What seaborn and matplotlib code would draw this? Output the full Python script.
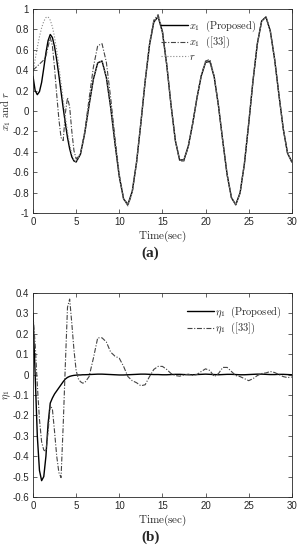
import matplotlib
matplotlib.use('Agg')
import matplotlib.pyplot as plt
import seaborn as sns

# time grid (s) for panel (a)
t_a = [0.0, 0.25, 0.5, 0.75, 1.0, 1.25, 1.5, 1.75, 2.0, 2.25, 2.5, 2.75, 3.0, 3.25, 3.5, 3.75,
       4.0, 4.25, 4.5, 4.75, 5.0, 5.5, 6.0, 6.5, 7.0, 7.5, 8.0, 8.5, 9.0, 9.5, 10.0, 10.5,
       11.0, 11.5, 12.0, 12.5, 13.0, 13.5, 14.0, 14.5, 15.0, 15.5, 16.0, 16.5, 17.0, 17.5,
       18.0, 18.5, 19.0, 19.5, 20.0, 20.5, 21.0, 21.5, 22.0, 22.5, 23.0, 23.5, 24.0, 24.5,
       25.0, 25.5, 26.0, 26.5, 27.0, 27.5, 28.0, 28.5, 29.0, 29.5, 30.0]

r_ref = [0.38, 0.505, 0.623, 0.728, 0.815, 0.879, 0.916, 0.923, 0.89, 0.825, 0.724, 0.594,
         0.443, 0.278, 0.109, -0.054, -0.201, -0.327, -0.421, -0.48, -0.5, -0.424, -0.217,
         0.056, 0.312, 0.472, 0.49, 0.329, 0.037, -0.317, -0.643, -0.862, -0.916, -0.789,
         -0.504, -0.119, 0.291, 0.644, 0.871, 0.925, 0.774, 0.452, 0.056, -0.291, -0.482,
         -0.477, -0.344, -0.126, 0.126, 0.344, 0.477, 0.486, 0.334, 0.049, -0.298, -0.624,
         -0.85, -0.919, -0.803, -0.518, -0.123, 0.299, 0.659, 0.882, 0.922, 0.785, 0.509,
         0.161, -0.173, -0.413, -0.5]

x1_prop = [0.34, 0.2, 0.16, 0.19, 0.28, 0.42, 0.57, 0.69, 0.75, 0.72, 0.63, 0.5, 0.35, 0.19,
           0.03, -0.12, -0.26, -0.37, -0.45, -0.49, -0.5, -0.424, -0.217, 0.056, 0.312,
           0.472, 0.49, 0.329, 0.037, -0.317, -0.643, -0.862, -0.916, -0.789, -0.504,
           -0.119, 0.291, 0.644, 0.871, 0.925, 0.774, 0.452, 0.056, -0.291, -0.482, -0.477,
           -0.344, -0.126, 0.126, 0.344, 0.477, 0.486, 0.334, 0.049, -0.298, -0.624, -0.85,
           -0.919, -0.803, -0.518, -0.123, 0.299, 0.659, 0.882, 0.922, 0.785, 0.509, 0.161,
           -0.173, -0.413, -0.5]

x1_33 = [0.4, 0.42, 0.44, 0.46, 0.48, 0.5, 0.54, 0.63, 0.72, 0.64, 0.42, 0.16, -0.08, -0.26,
         -0.29, -0.02, 0.13, 0.04, -0.2, -0.39, -0.47, -0.42, -0.2, 0.12, 0.43, 0.64, 0.66,
         0.48, 0.13, -0.26, -0.62, -0.86, -0.93, -0.8, -0.51, -0.12, 0.3, 0.66, 0.89, 0.945,
         0.79, 0.46, 0.06, -0.29, -0.49, -0.49, -0.35, -0.13, 0.13, 0.35, 0.49, 0.505, 0.34,
         0.049, -0.298, -0.624, -0.85, -0.919, -0.803, -0.518, -0.123, 0.299, 0.659, 0.882,
         0.922, 0.785, 0.509, 0.161, -0.173, -0.413, -0.5]

# time grid (s) for panel (b)
t_b = [0.0, 0.25, 0.5, 0.75, 1.0, 1.25, 1.5, 1.75, 2.0, 2.25, 2.5, 2.75, 3.0, 3.25, 3.5, 3.75,
       4.0, 4.25, 4.5, 4.75, 5.0, 5.25, 5.5, 5.75, 6.0, 6.5, 7.0, 7.5, 8.0, 8.5, 9.0, 9.5,
       10.0, 10.5, 11.0, 11.5, 12.0, 12.5, 13.0, 13.5, 14.0, 14.5, 15.0, 15.5, 16.0, 16.5,
       17.0, 17.5, 18.0, 18.5, 19.0, 19.5, 20.0, 20.5, 21.0, 21.5, 22.0, 22.5, 23.0, 23.5,
       24.0, 24.5, 25.0, 25.5, 26.0, 26.5, 27.0, 27.5, 28.0, 28.5, 29.0, 29.5, 30.0]

eta_prop = [0.3, 0.0, -0.3, -0.47, -0.52, -0.5, -0.4, -0.24, -0.14, -0.115, -0.095, -0.08,
            -0.065, -0.05, -0.035, -0.022, -0.014, -0.009, -0.006, -0.004, -0.003, -0.002,
            -0.002, -0.001, -0.001, 0.0, 0.001, 0.002, 0.002, 0.001, 0.0, -0.001, -0.002,
            -0.002, -0.001, 0.0, 0.001, 0.002, 0.002, 0.001, 0.0, 0.0, -0.001, -0.001, 0.0,
            0.001, 0.001, 0.0, -0.001, -0.001, 0.0, 0.001, 0.002, 0.001, 0.0, -0.001, 0.0,
            0.001, 0.001, 0.0, -0.001, -0.001, 0.0, 0.001, 0.002, 0.002, 0.001, 0.0, 0.0,
            0.001, 0.001, 0.0, -0.001]

eta_33 = [0.29, 0.15, -0.05, -0.22, -0.33, -0.37, -0.376, -0.28, -0.15, -0.17, -0.28, -0.4,
          -0.48, -0.505, -0.25, 0.05, 0.33, 0.37, 0.25, 0.12, 0.02, -0.02, -0.035, -0.042,
          -0.04, -0.01, 0.08, 0.18, 0.18, 0.16, 0.11, 0.09, 0.08, 0.04, -0.01, -0.03, -0.04,
          -0.055, -0.05, -0.01, 0.025, 0.04, 0.04, 0.025, 0.005, -0.005, -0.008, -0.002,
          0.002, -0.003, 0.0, 0.015, 0.028, 0.02, -0.01, 0.005, 0.035, 0.035, 0.015, -0.005,
          -0.01, -0.02, -0.03, -0.02, -0.005, 0.005, 0.008, 0.015, 0.01, 0.0, -0.01, -0.015,
          -0.012]

xticks = [0, 5, 10, 15, 20, 25, 30]
yticks_a = [-1, -0.8, -0.6, -0.4, -0.2, 0, 0.2, 0.4, 0.6, 0.8, 1]
yticks_b = [-0.6, -0.5, -0.4, -0.3, -0.2, -0.1, 0, 0.1, 0.2, 0.3, 0.4]

sns.set_style('ticks')
plt.rcParams['font.family'] = ['Liberation Sans', 'DejaVu Sans']
plt.rcParams['mathtext.fontset'] = 'cm'
plt.rcParams['axes.unicode_minus'] = False

fig = plt.figure(figsize=(3.01, 5.5), dpi=100)
ax1 = fig.add_axes([0.1096, 0.6127, 0.860, 0.371])
ax2 = fig.add_axes([0.1096, 0.0964, 0.860, 0.371])

dashdot = (0, (4.5, 1.5, 1, 1.5))
sns.lineplot(x=t_a, y=x1_prop, ax=ax1, color='black', linewidth=1.0,
             label=r'$x_1\ \ \mathrm{(Proposed)}$')
sns.lineplot(x=t_a, y=x1_33, ax=ax1, color='#444444', linewidth=0.8, linestyle=dashdot,
             label=r'$x_1\ \ \mathrm{([33])}$')
sns.lineplot(x=t_a, y=r_ref, ax=ax1, color='#888888', linewidth=0.8, linestyle=':',
             label=r'$r$')

sns.lineplot(x=t_b, y=eta_prop, ax=ax2, color='black', linewidth=1.0,
             label=r'$\eta_1\ \ \mathrm{(Proposed)}$')
sns.lineplot(x=t_b, y=eta_33, ax=ax2, color='#444444', linewidth=0.8, linestyle=dashdot,
             label=r'$\eta_1\ \ \mathrm{([33])}$')


def fmt(v):
    s = ('%.1f' % v).rstrip('0').rstrip('.')
    return '0' if s in ('-0', '') else s


for ax, yt in ((ax1, yticks_a), (ax2, yticks_b)):
    ax.set_xlim(0, 30)
    ax.set_ylim(yt[0], yt[-1])
    ax.set_xticks(xticks)
    ax.set_xticklabels([str(v) for v in xticks])
    ax.set_yticks(yt)
    ax.set_yticklabels([fmt(v) for v in yt])
    ax.tick_params(direction='in', top=True, right=True, length=3, width=0.5,
                   labelsize=7, colors='#262626', pad=3)
    for sp in ax.spines.values():
        sp.set_visible(True)
        sp.set_linewidth(0.6)
        sp.set_color('#262626')
    ax.set_xlabel(r'$\mathrm{Time(sec)}$', fontsize=8, labelpad=1)

ax1.set_ylabel(r'$x_1\ \mathrm{and}\ r$', fontsize=7.5)
ax2.set_ylabel(r'$\eta_1$', fontsize=7.5)
ax1.yaxis.set_label_coords(-0.077, 0.5)
ax2.yaxis.set_label_coords(-0.077, 0.5)

ax1.legend(loc='upper right', bbox_to_anchor=(0.88, 0.975), frameon=False, fontsize=7.5,
           handlelength=2.6, handletextpad=0.1, labelspacing=0.15, borderaxespad=0)
ax2.legend(loc='upper right', bbox_to_anchor=(0.975, 0.965), frameon=False, fontsize=7.5,
           handlelength=2.6, handletextpad=0.1, labelspacing=0.15, borderaxespad=0)

fig.text(0.5, 1 - 253 / 550, '(a)', ha='center', va='center', fontsize=11,
         fontweight='bold', family='Liberation Serif')
fig.text(0.5, 1 - 537 / 550, '(b)', ha='center', va='center', fontsize=11,
         fontweight='bold', family='Liberation Serif')

fig.savefig('out.png', dpi=100)
